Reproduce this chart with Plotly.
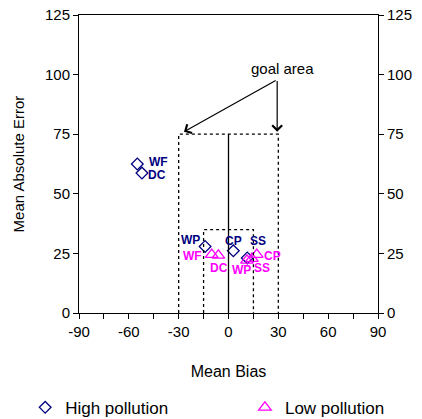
import plotly.graph_objects as go

sites = ["WF", "DC", "WP", "CP", "SS"]
high_bias = [-54.9, -52.1, -14.1, 2.9, 11.3]
high_mae = [62.5, 58.7, 27.9, 26.1, 23.1]

low_bias = [-10.1, -6.1, 11.1, 17.0, 14.1]
low_mae = [24.5, 24.2, 22.1, 24.5, 22.8]

# label offsets in pixels (style only)
high_label_dx = [21, 15, -15, 0, 11]
high_label_dy = [2, -2, 6, 10, 17]
low_label_dx = [-19, 1, -5, 16, 10]
low_label_dy = [-1, -13, -10, -1, -9]

outer_goal = [-30, 30, 75]
inner_goal = [-15, 15, 35]
x_ticks = [-90, -60, -30, 0, 30, 60, 90]
x_tick_labels = ["-90", "-60", "-30", "0", "30", "60", "90"]

FONT = "Liberation Sans, Arial, sans-serif"
NAVY = "#000080"
MAG = "#FF00FF"

fig = go.Figure()
fig.add_trace(go.Scatter(
    x=high_bias, y=high_mae, mode="markers", name="High pollution", legend="legend",
    marker=dict(symbol="diamond-open", size=9, color=NAVY, line=dict(width=1.3)),
))
fig.add_trace(go.Scatter(
    x=low_bias, y=low_mae, mode="markers", name="Low pollution", legend="legend2",
    marker=dict(symbol="triangle-up-open", size=11, color=MAG, line=dict(width=1.3)),
))

for s, x, y, dx, dy in zip(sites, high_bias, high_mae, high_label_dx, high_label_dy):
    fig.add_annotation(x=x, y=y, text=s, showarrow=False, xshift=dx, yshift=dy,
                       font=dict(family=FONT, size=12, color=NAVY, weight="bold"))
for s, x, y, dx, dy in zip(sites, low_bias, low_mae, low_label_dx, low_label_dy):
    fig.add_annotation(x=x, y=y, text=s, showarrow=False, xshift=dx, yshift=dy,
                       font=dict(family=FONT, size=12, color=MAG, weight="bold"))

# goal area boxes
for lo, hi, top in [outer_goal, inner_goal]:
    fig.add_shape(type="path", xref="x", yref="y",
                  path=f"M {lo},0 L {lo},{top} L {hi},{top} L {hi},0",
                  line=dict(color="black", width=1.3, dash="dot"))
fig.add_shape(type="line", xref="x", yref="y", x0=0, x1=0, y0=0, y1=outer_goal[2],
              line=dict(color="black", width=1.3))

# goal area label and arrows
fig.add_annotation(x=32.5, y=102.5, text="goal area", showarrow=False,
                   font=dict(family=FONT, size=15, color="black"))
for tip_x in (-26.8, 29.3):
    fig.add_annotation(x=tip_x, y=76.0, ax=29.3, ay=97.9, xref="x", yref="y",
                       axref="x", ayref="y", text="", showarrow=True,
                       arrowhead=4, arrowsize=1.6, arrowwidth=1.2, arrowcolor="black")

axis_common = dict(showline=True, linecolor="black", linewidth=1, mirror=True,
                   ticks="outside", ticklen=5, tickcolor="black", showgrid=False,
                   zeroline=False, tickfont=dict(family=FONT, size=15, color="black"))

legend_common = dict(orientation="h", yanchor="middle", y=-0.318,
                     font=dict(family=FONT, size=17, color="black"),
                     itemclick=False, itemdoubleclick=False, bgcolor="rgba(0,0,0,0)")

fig.update_layout(
    width=422, height=419,
    margin=dict(l=79, r=44, t=15, b=106, autoexpand=False),
    plot_bgcolor="white", paper_bgcolor="white",
    font=dict(family=FONT, size=15, color="black"),
    xaxis=dict(range=[-90, 90], tickmode="array", tickvals=x_ticks, ticktext=x_tick_labels,
               minor=dict(ticks="outside", ticklen=5, tickcolor="black", dtick=15, tick0=0),
               title=dict(text="Mean Bias", font=dict(family=FONT, size=16), standoff=26),
               **axis_common),
    yaxis=dict(range=[0, 125], dtick=25,
               title=dict(text="Mean Absolute Error", font=dict(family=FONT, size=15), standoff=16),
               **axis_common),
    yaxis2=dict(range=[0, 125], dtick=25, overlaying="y", side="right", showline=False,
                ticks="outside", ticklen=5, tickcolor="black", showgrid=False, zeroline=False,
                tickfont=dict(family=FONT, size=15, color="black")),
    showlegend=True,
    legend=dict(x=-0.18, xanchor="left", **legend_common),
    legend2=dict(x=0.555, xanchor="left", **legend_common),
)
# invisible trace to activate right axis
fig.add_trace(go.Scatter(x=[None], y=[None], yaxis="y2", showlegend=False, hoverinfo="skip"))

fig.write_html("out.html")
